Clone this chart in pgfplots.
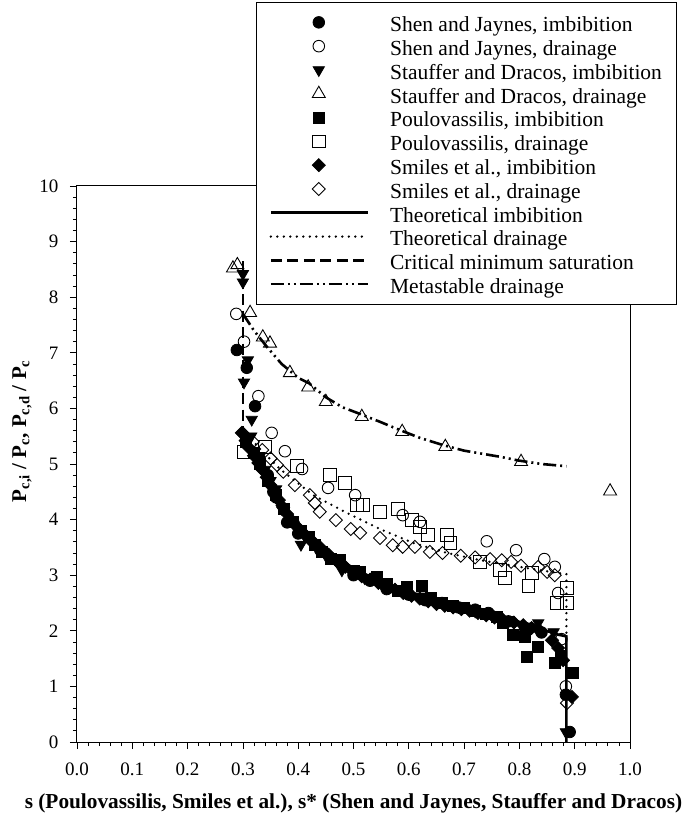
\documentclass[border=0pt]{standalone}
\usepackage{fontspec}
\setmainfont{Liberation Serif}
\usepackage{pgfplots}
\pgfplotsset{compat=1.18}
\begin{document}
\begin{tikzpicture}
\begin{axis}[
  width=553pt, height=556pt, scale only axis,
  xmin=0, xmax=1, ymin=0, ymax=10,
  xtick={0,0.1,...,1.01}, ytick={0,1,...,10},
  minor x tick num=4, minor y tick num=4,
  tick pos=left, tick align=outside,
  major tick length=7pt, minor tick length=4pt,
  every tick/.style={black, line width=0.8pt},
  axis line style={line width=1pt},
  /pgf/number format/assume math mode=true,
  xticklabel style={/pgf/number format/.cd, fixed, fixed zerofill, precision=1, /tikz/.cd, yshift=-10pt},
  yticklabel style={/pgf/number format/.cd, fixed, precision=0, /tikz/.cd, xshift=-8pt},
  ticklabel style={font=\fontsize{19}{22}\selectfont},
  xlabel={\textbf{s (Poulovassilis, Smiles et al.), s* (Shen and Jaynes, Stauffer and Dracos)}},
  xlabel style={font=\fontsize{21.3}{25}\selectfont, at={(rel axis cs:0.5,0)}, anchor=center, yshift=-61pt},
  ylabel={\textbf{P\textsubscript{c,i} / P\textsubscript{c}, P\textsubscript{c,d} / P\textsubscript{c}}},
  ylabel style={font=\fontsize{21}{25}\selectfont, at={(rel axis cs:0,0.559)}, anchor=center, yshift=55pt},
  legend cell align=left,
  legend image code/.code={\draw[mark repeat=2,mark phase=2,#1] plot coordinates {(0pt,0pt) (48pt,0pt) (97pt,0pt)};},
  legend style={at={(rel axis cs:0.3237,1.331)}, anchor=north west, draw=black, line width=1pt,
    font=\fontsize{21.5}{24}\selectfont, inner xsep=13pt, inner ysep=8pt, column sep=19pt,
    nodes={inner sep=2pt, text height=19.3pt, text depth=0.5pt}},
  clip=false,
]
% Shen and Jaynes, imbibition
\addplot[only marks, mark=*, mark size=5.8pt, mark options={fill=black, draw=black, line width=0.8pt}] coordinates {
(0.289,7.05) (0.307,6.73) (0.322,6.04) (0.33,5.10) (0.345,4.80) (0.355,4.50) (0.36,4.40) (0.38,3.95)
(0.40,3.75) (0.44,3.45) (0.46,3.30) (0.50,3.00) (0.53,2.90) (0.56,2.75) (0.60,2.65) (0.63,2.55)
(0.66,2.50) (0.69,2.42) (0.72,2.38) (0.744,2.32) (0.78,2.17) (0.81,2.05) (0.84,1.97)
(0.884,0.85) (0.891,0.18)};
\addlegendentry{Shen and Jaynes, imbibition}
% Shen and Jaynes, drainage
\addplot[only marks, mark=o, mark size=5.8pt, mark options={draw=black, line width=0.9pt}] coordinates {
(0.288,7.70) (0.302,7.20) (0.328,6.22) (0.352,5.56) (0.376,5.23) (0.407,4.91) (0.454,4.57)
(0.503,4.44) (0.589,4.08) (0.620,3.96) (0.741,3.61) (0.794,3.45) (0.845,3.29) (0.864,3.15)
(0.870,2.68) (0.876,1.85) (0.884,1.00)};
\addlegendentry{Shen and Jaynes, drainage}
% Stauffer and Dracos, imbibition
\addplot[only marks, mark=triangle*, mark size=6.5pt, mark options={rotate=180, fill=black, draw=black, line width=0.8pt}] coordinates {
(0.300,8.42) (0.300,8.27) (0.309,6.87) (0.302,6.47) (0.316,5.80) (0.315,5.50) (0.33,5.15)
(0.34,4.90) (0.35,4.70) (0.36,4.55) (0.37,4.20) (0.39,3.95) (0.405,3.55) (0.43,3.55)
(0.45,3.35) (0.479,3.09) (0.52,2.95) (0.55,2.85) (0.58,2.75) (0.62,2.62) (0.65,2.50)
(0.68,2.45) (0.72,2.35) (0.75,2.28) (0.78,2.20) (0.81,2.08) (0.834,2.14) (0.862,1.98) (0.884,0.18)};
\addlegendentry{Stauffer and Dracos, imbibition}
% Stauffer and Dracos, drainage
\addplot[only marks, mark=triangle, mark size=7.5pt, mark options={draw=black, line width=0.9pt}] coordinates {
(0.282,8.52) (0.290,8.58) (0.313,7.72) (0.336,7.28) (0.349,7.17) (0.385,6.64) (0.418,6.38)
(0.450,6.12) (0.515,5.85) (0.588,5.58) (0.666,5.31) (0.803,5.04) (0.964,4.51)};
\addlegendentry{Stauffer and Dracos, drainage}
% Poulovassilis, imbibition
\addplot[only marks, mark=square*, mark size=5.5pt, mark options={fill=black, draw=black, line width=0.8pt}] coordinates {
(0.305,5.40) (0.32,5.20) (0.33,5.00) (0.345,4.70) (0.36,4.45) (0.375,4.20) (0.39,3.95)
(0.405,3.80) (0.42,3.68) (0.43,3.55) (0.443,3.42) (0.46,3.30) (0.476,3.27) (0.50,3.08)
(0.512,3.06) (0.542,2.97) (0.56,2.85) (0.58,2.72) (0.597,2.79) (0.624,2.81) (0.64,2.60)
(0.66,2.50) (0.68,2.45) (0.70,2.42) (0.72,2.36) (0.74,2.30) (0.76,2.25) (0.771,2.14)
(0.788,1.92) (0.81,1.89) (0.813,1.53) (0.834,1.71) (0.864,1.42) (0.875,1.55) (0.897,1.24)};
\addlegendentry{Poulovassilis, imbibition}
% Poulovassilis, drainage
\addplot[only marks, mark=square, mark size=6.3pt, mark options={draw=black, line width=0.9pt}] coordinates {
(0.302,5.22) (0.340,5.31) (0.398,4.96) (0.457,4.80) (0.485,4.66) (0.506,4.26) (0.517,4.26)
(0.548,4.14) (0.580,4.19) (0.606,3.99) (0.620,3.87) (0.635,3.72) (0.669,3.72) (0.675,3.58)
(0.729,3.24) (0.765,3.09) (0.774,2.95) (0.816,2.81) (0.823,3.04) (0.868,2.50) (0.886,2.50)
(0.886,2.77)};
\addlegendentry{Poulovassilis, drainage}
% Smiles et al., imbibition
\addplot[only marks, mark=square*, mark size=4.6pt, mark options={rotate=45, fill=black, draw=black, line width=0.8pt}] coordinates {
(0.298,5.56) (0.305,5.42) (0.31,5.30) (0.32,5.15) (0.328,5.02) (0.335,4.90) (0.343,4.76)
(0.35,4.62) (0.358,4.48) (0.365,4.35) (0.373,4.22) (0.38,4.10) (0.39,3.97) (0.40,3.85)
(0.41,3.75) (0.42,3.65) (0.43,3.57) (0.44,3.50) (0.455,3.37) (0.47,3.25) (0.485,3.15)
(0.50,3.05) (0.515,2.98) (0.53,2.92) (0.545,2.86) (0.56,2.80) (0.575,2.74) (0.59,2.68)
(0.605,2.63) (0.62,2.58) (0.635,2.53) (0.65,2.48) (0.665,2.45) (0.68,2.42) (0.695,2.39)
(0.71,2.36) (0.725,2.32) (0.74,2.28) (0.755,2.24) (0.77,2.20) (0.79,2.15)
(0.807,2.10) (0.822,2.05) (0.837,2.00) (0.859,1.83) (0.870,1.69) (0.879,1.47) (0.895,0.81)};
\addlegendentry{Smiles et al., imbibition}
% Smiles et al., drainage
\addplot[only marks, mark=square, mark size=4.6pt, mark options={rotate=45, draw=black, line width=0.9pt}] coordinates {
(0.300,5.55) (0.318,5.40) (0.335,5.25) (0.350,5.10) (0.362,4.98) (0.373,4.86) (0.394,4.62)
(0.421,4.44) (0.430,4.30) (0.439,4.14) (0.468,3.99) (0.495,3.83) (0.512,3.76) (0.548,3.67)
(0.571,3.54) (0.589,3.51) (0.611,3.51) (0.638,3.42) (0.661,3.40) (0.694,3.35) (0.720,3.32)
(0.747,3.29) (0.768,3.27) (0.785,3.24) (0.803,3.17) (0.834,3.15) (0.850,3.06) (0.864,3.00)
(0.886,0.70)};
\addlegendentry{Smiles et al., drainage}
% Theoretical imbibition
\addplot[no marks, black, line width=2.6pt] coordinates {
(0.300,5.50) (0.32,5.10) (0.34,4.75) (0.36,4.45) (0.38,4.17) (0.40,3.93) (0.43,3.64)
(0.46,3.40) (0.50,3.12) (0.55,2.88) (0.60,2.70) (0.65,2.55) (0.70,2.43) (0.75,2.30)
(0.80,2.16) (0.84,2.03) (0.87,1.93) (0.885,1.90) (0.885,0.00)};
\addlegendentry{Theoretical imbibition}
% Theoretical drainage
\addplot[no marks, black, line width=2.6pt, line cap=round, dash pattern=on 0pt off 6.5pt] coordinates {
(0.300,5.62) (0.33,5.28) (0.367,4.91) (0.40,4.65) (0.427,4.44) (0.488,4.12) (0.548,3.83)
(0.608,3.58) (0.669,3.40) (0.729,3.27) (0.80,3.15) (0.85,3.07) (0.885,3.02) (0.885,1.95)};
\addlegendentry{Theoretical drainage}
% Critical minimum saturation
\addplot[no marks, black, line width=2.6pt, dash pattern=on 11pt off 5.5pt] coordinates {
(0.300,8.65) (0.300,5.50)};
\addlegendentry{Critical minimum saturation}
% Metastable drainage
\addplot[no marks, black, line width=2.6pt, dash pattern=on 13pt off 4pt on 2pt off 4pt on 2pt off 4pt] coordinates {
(0.300,7.70) (0.32,7.40) (0.344,7.10) (0.37,6.80) (0.40,6.55) (0.42,6.45) (0.45,6.20)
(0.48,6.02) (0.512,5.90) (0.55,5.75) (0.584,5.61) (0.62,5.47) (0.662,5.34) (0.70,5.24)
(0.765,5.13) (0.80,5.06) (0.84,5.00) (0.885,4.96)};
\addlegendentry{Metastable drainage}
\end{axis}
\pgfresetboundingbox
\path[use as bounding box] (-77pt,-77pt) rectangle (608pt,742pt);
\end{tikzpicture}
\end{document}
